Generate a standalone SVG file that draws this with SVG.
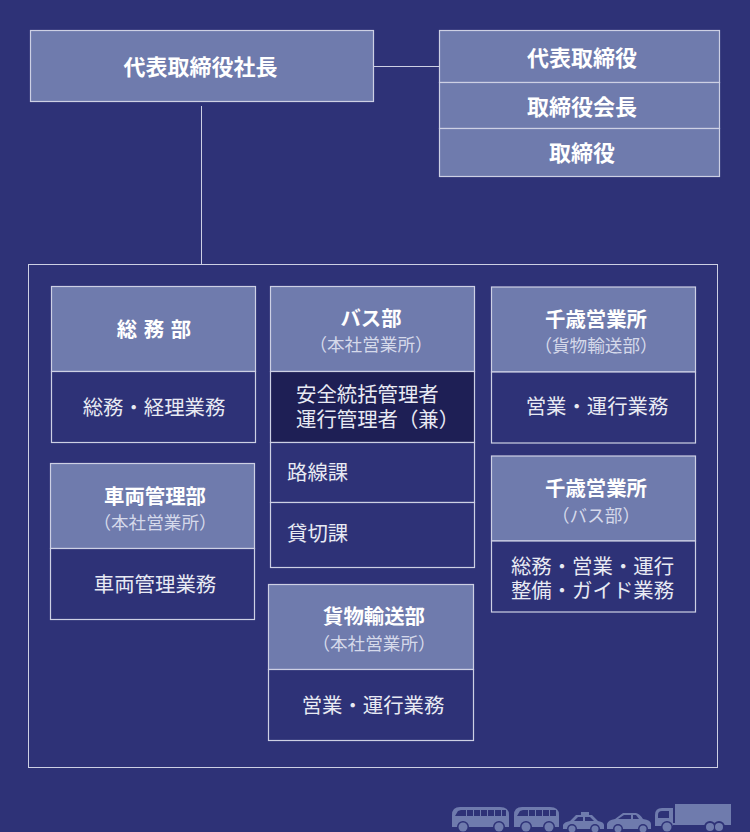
<svg xmlns="http://www.w3.org/2000/svg" width="750" height="832" viewBox="0 0 750 832">
<style>
text{font-family:"Noto Sans CJK JP","Noto Sans CJK SC",sans-serif;fill:#fff;text-anchor:middle}
.b{font-weight:700;font-size:22px}
.m{font-weight:700;font-size:20.400px}
.s{font-size:17.600px;fill:#d5d9ea}
.n{font-size:20.400px;fill:#e8eaf3}
.l{text-anchor:start}
.h{fill:#6f7bad;stroke:#cdd0e4;stroke-width:1.200}
.c{fill:#2e3277;stroke:#cdd0e4;stroke-width:1.200}
.d{fill:#1e1f55;stroke:#cdd0e4;stroke-width:1.200}
.v{fill:#6f7bad}
.w{fill:#2e3277}
.line{stroke:#cdd0e4;stroke-width:1;fill:none}
</style>
<rect width="750" height="832" fill="#2e3277"/>
<g id="connectors">
<path class="line" d="M374 66.500H439M201.500 106V264"/>
</g>
<g id="president"><rect class="h" x="30.500" y="30.500" width="343" height="71"/><text class="b" x="200.500" y="75">代表取締役社長</text></g>
<g id="board">
<rect class="h" x="439.500" y="30.500" width="280" height="52"/><text class="b" x="582" y="66">代表取締役</text>
<rect class="h" x="439.500" y="82.500" width="280" height="46"/><text class="b" x="582" y="115">取締役会長</text>
<rect class="h" x="439.500" y="128.500" width="280" height="48"/><text class="b" x="582" y="161">取締役</text>
</g>
<rect id="frame" class="line" x="28.500" y="264.500" width="689" height="503"/>
<g id="soumu">
<rect class="h" x="51.500" y="286.500" width="204" height="85"/><text class="m" x="154" y="337" word-spacing="2">総 務 部</text>
<rect class="c" x="51.500" y="371.500" width="204" height="71"/><text class="n" x="154" y="415">総務・経理業務</text>
</g>
<g id="sharyo">
<rect class="h" x="50.500" y="463.500" width="204" height="85"/><text class="m" x="155" y="504">車両管理部</text><text class="s" x="155" y="529">（本社営業所）</text>
<rect class="c" x="50.500" y="548.500" width="204" height="71"/><text class="n" x="155" y="592">車両管理業務</text>
</g>
<g id="bus-dept">
<rect class="h" x="270.500" y="286.500" width="204" height="85"/><text class="m" x="371" y="326">バス部</text><text class="s" x="371" y="351">（本社営業所）</text>
<rect class="d" x="270.500" y="371.500" width="204" height="71"/><text class="n l"><tspan x="296" y="402">安全統括管理者</tspan><tspan x="296" y="427">運行管理者（兼）</tspan></text>
<rect class="c" x="270.500" y="442.500" width="204" height="60"/><text class="n l" x="287" y="480">路線課</text>
<rect class="c" x="270.500" y="502.500" width="204" height="65"/><text class="n l" x="287" y="541">貸切課</text>
</g>
<g id="kamotsu">
<rect class="h" x="268.500" y="584.500" width="205" height="85"/><text class="m" x="374" y="624">貨物輸送部</text><text class="s" x="374" y="650">（本社営業所）</text>
<rect class="c" x="268.500" y="669.500" width="205" height="71"/><text class="n" x="373" y="713">営業・運行業務</text>
</g>
<g id="chitose-cargo">
<rect class="h" x="491.500" y="287" width="204" height="85"/><text class="m" x="596" y="327">千歳営業所</text><text class="s" x="596" y="352">（貨物輸送部）</text>
<rect class="c" x="491.500" y="372" width="204" height="71"/><text class="n" x="597" y="414">営業・運行業務</text>
</g>
<g id="chitose-bus">
<rect class="h" x="491.500" y="456" width="204" height="85"/><text class="m" x="596" y="496">千歳営業所</text><text class="s" x="596" y="522">（バス部）</text>
<rect class="c" x="491.500" y="541" width="204" height="71"/><text class="n"><tspan x="592.500" y="574">総務・営業・運行</tspan><tspan x="592.500" y="598">整備・ガイド業務</tspan></text>
</g>
<g id="vehicles">
<path class="v" d="M452 827V815Q452 807 460 807H500Q509 807 509 815V827Z"/>
<path class="w" d="M455 816l3-5 3-1H506V816Z"/>
<path class="v" d="M466 810h1v6h-1zM473 810h1v6h-1zM480 810h1v6h-1zM487 810h1v6h-1zM494 810h1v6h-1zM501 810h1v6h-1z"/>
<path class="v" d="M514 827V815Q514 807 522 807H550Q559 807 559 815V827Z"/>
<path class="w" d="M517 816l3-5 3-1H556V816Z"/>
<path class="v" d="M528 810h1v6h-1zM535 810h1v6h-1zM542 810h1v6h-1zM549 810h1v6h-1z"/>
<path class="v" d="M563 829V825Q564 822 570 821L576 815H581V812H589V815H592L598 821Q604 822 604 825V829Z"/>
<path class="w" d="M574 821l4-4h5v4zM585 817h5l4 4h-9z"/>
<path class="v" d="M607 829V824Q608 820 615 819L623 813H636Q640 814 643 819Q651 820 651 824V829Z"/>
<path class="w" d="M618 819l6-4h7v4zM633 815h3l3 4h-6z"/>
<path class="v" d="M655 826V815Q655 808 662 808H673V826Z"/>
<path class="w" d="M658 818V815Q658 811 662 811H669V818Z"/>
<path class="v" d="M675 804H731V823H675Z"/>
<path class="v" d="M673 823H731V825H673Z"/>
<g class="w"><circle cx="463" cy="827" r="6"/><circle cx="499" cy="827" r="6"/><circle cx="526" cy="827" r="6"/><circle cx="549" cy="827" r="6"/><circle cx="572" cy="829" r="5"/><circle cx="595" cy="829" r="5"/><circle cx="618" cy="829" r="5"/><circle cx="643" cy="829" r="5"/><circle cx="667" cy="827" r="6"/><circle cx="710" cy="827" r="6"/><circle cx="719" cy="827" r="6"/></g>
<g class="v"><circle cx="463" cy="827" r="4.500"/><circle cx="499" cy="827" r="4.500"/><circle cx="526" cy="827" r="4.500"/><circle cx="549" cy="827" r="4.500"/><circle cx="572" cy="829" r="3.500"/><circle cx="595" cy="829" r="3.500"/><circle cx="618" cy="829" r="3.500"/><circle cx="643" cy="829" r="3.500"/><circle cx="667" cy="827" r="4.500"/><circle cx="710" cy="827" r="4"/><circle cx="719" cy="827" r="4"/></g>
</g>
</svg>
